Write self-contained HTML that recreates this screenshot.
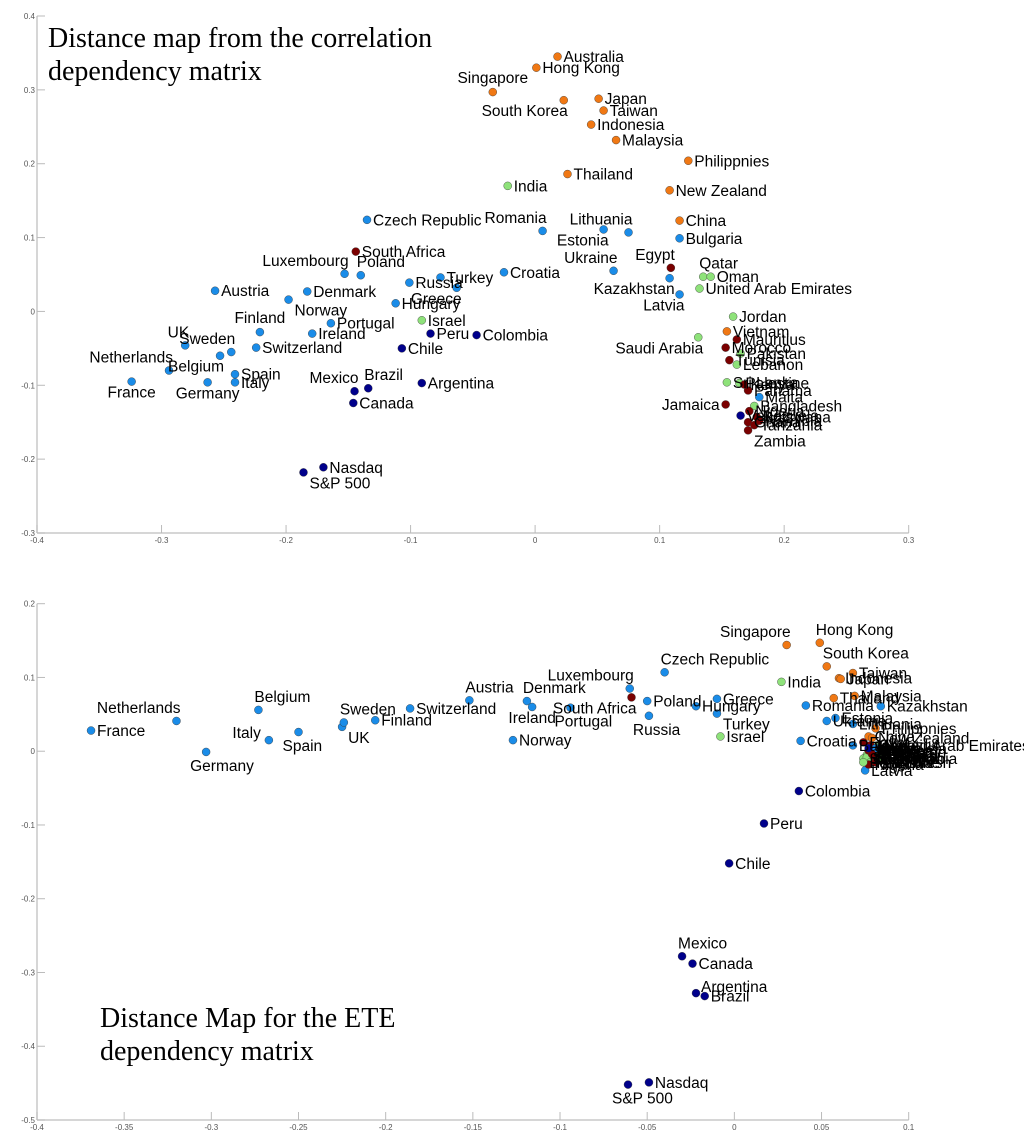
<!DOCTYPE html>
<html><head><meta charset="utf-8"><title>Distance maps</title>
<style>
html,body{margin:0;padding:0;background:#fff;}
svg{display:block;}
.lbl{font-family:"Liberation Sans",sans-serif;font-size:15.5px;fill:#000;}
.tick{font-family:"Liberation Sans",sans-serif;font-size:8px;fill:#555;}
.title{font-family:"Liberation Serif",serif;font-size:28px;fill:#000;}
</style></head>
<body>
<svg id="chart" width="1024" height="1147" viewBox="0 0 1024 1147" xmlns="http://www.w3.org/2000/svg">
<text class="title" x="48" y="47">Distance map from the correlation</text>
<text class="title" x="48" y="80">dependency matrix</text>
<text class="title" x="100" y="1027">Distance Map for the ETE</text>
<text class="title" x="100" y="1060">dependency matrix</text>
<g id="top"></g>
<g id="bot"></g>
</svg>
<script>
const COLORS={o:"#f07814",b:"#1a8ce8",n:"#00008b",r:"#7a0000",g:"#8ee27a"};

// ---- Top panel data ----
const topNames=["Australia","Hong Kong","Singapore","South Korea","Japan","Taiwan","Indonesia","Malaysia","Philippnies","Thailand","India","New Zealand","Czech Republic","Romania","Lithuania","Estonia","China","Bulgaria","South Africa","Luxembourg","Poland","Turkey","Croatia","Ukraine","Egypt","Qatar","Oman","Russia","Kazakhstan","Austria","Denmark","Greece","United Arab Emirates","Latvia","Norway","Hungary","Finland","Portugal","Israel","Ireland","UK","Sweden","Switzerland","Peru","Colombia","Chile","Jordan","Vietnam","Saudi Arabia","Mauritius","Morocco","Pakistan","Tunisia","Lebanon","Netherlands","France","Belgium","Spain","Germany","Italy","Mexico","Brazil","Argentina","Canada","Sri Lanka","Palestine","Jamaica","Panama","Kenya","Malta","Bangladesh","Venezuela","Nigeria","Botswana","Ghana","Tanzania","Namibia","Zambia","Nasdaq","S&P 500"];
const topX=[0.018,0.001,-0.034,0.023,0.051,0.055,0.045,0.065,0.123,0.026,-0.022,0.108,-0.135,0.006,0.075,0.055,0.116,0.116,-0.144,-0.153,-0.140,-0.076,-0.025,0.063,0.109,0.135,0.141,-0.101,0.108,-0.257,-0.183,-0.063,0.132,0.116,-0.198,-0.112,-0.221,-0.164,-0.091,-0.179,-0.281,-0.244,-0.224,-0.084,-0.047,-0.107,0.159,0.154,0.131,0.162,0.153,0.165,0.156,0.162,-0.294,-0.324,-0.253,-0.241,-0.263,-0.241,-0.145,-0.134,-0.091,-0.146,0.154,0.164,0.153,0.171,0.168,0.180,0.176,0.165,0.172,0.178,0.171,0.176,0.180,0.171,-0.170,-0.186];
const topY=[0.345,0.330,0.297,0.286,0.288,0.272,0.253,0.232,0.204,0.186,0.170,0.164,0.124,0.109,0.107,0.111,0.123,0.099,0.081,0.051,0.049,0.046,0.053,0.055,0.059,0.047,0.047,0.039,0.045,0.028,0.027,0.032,0.031,0.023,0.016,0.011,-0.028,-0.016,-0.012,-0.030,-0.046,-0.055,-0.049,-0.030,-0.032,-0.050,-0.007,-0.027,-0.035,-0.038,-0.049,-0.057,-0.066,-0.072,-0.080,-0.095,-0.060,-0.085,-0.096,-0.096,-0.108,-0.104,-0.097,-0.124,-0.096,-0.097,-0.126,-0.107,-0.099,-0.116,-0.128,-0.141,-0.135,-0.143,-0.150,-0.154,-0.148,-0.161,-0.211,-0.218];
const topGroup=["o","o","o","o","o","o","o","o","o","o","g","o","b","b","b","b","o","b","r","b","b","b","b","b","r","g","g","b","b","b","b","b","g","b","b","b","b","b","g","b","b","b","b","n","n","n","g","o","g","r","r","g","r","g","b","b","b","b","b","b","n","n","n","n","g","g","r","r","r","b","g","n","r","r","r","r","r","r","n","n"];
const topPos=["r","r","ac","lb","r","r","r","r","r","r","r","r","r","al","al","bl","r","r","r","al","a","r","r","al","al","a","r","r","bl","r","r","bl","r","bl","br","r","ac","r","r","r","al","al","r","r","r","r","r","r","bl","r","r","r","r","r","al","bc","lb","r","bc","r","al","a","r","r","r","r","l","r","r","r","r","r","r","r","r","r","r","br","r","br"];

// ---- Bottom panel data ----
const botNames=["France","Netherlands","Germany","Belgium","Italy","Spain","UK","Sweden","Finland","Switzerland","Austria","Denmark","Ireland","Norway","Portugal","Luxembourg","South Africa","Poland","Czech Republic","Russia","Greece","Hungary","Turkey","Israel","India","Singapore","Hong Kong","South Korea","Taiwan","Indonesia","Japan","Thailand","Malaysia","Romania","Kazakhstan","Estonia","Ukraine","Croatia","Lithuania","Philippnies","China","Latvia","Bulgaria","New Zealand","Egypt","United Arab Emirates","Qatar","Oman","Jordan","Saudi Arabia","Vietnam","Mauritius","Morocco","Pakistan","Tunisia","Lebanon","Sri Lanka","Palestine","Jamaica","Panama","Malta","Kenya","Nigeria","Zambia","Bangladesh","Venezuela","Colombia","Peru","Chile","Mexico","Canada","Argentina","Brazil","Nasdaq","S&P 500"];
const botX=[-0.369,-0.320,-0.303,-0.273,-0.267,-0.250,-0.225,-0.224,-0.206,-0.186,-0.152,-0.119,-0.116,-0.127,-0.094,-0.060,-0.059,-0.050,-0.040,-0.049,-0.010,-0.022,-0.010,-0.008,0.027,0.030,0.049,0.053,0.068,0.060,0.061,0.057,0.069,0.041,0.084,0.058,0.053,0.038,0.068,0.081,0.077,0.075,0.068,0.079,0.074,0.082,0.080,0.078,0.076,0.074,0.081,0.078,0.077,0.084,0.079,0.082,0.076,0.078,0.077,0.080,0.081,0.079,0.077,0.081,0.074,0.077,0.037,0.017,-0.003,-0.030,-0.024,-0.022,-0.017,-0.049,-0.061];
const botY=[0.028,0.041,-0.001,0.056,0.015,0.026,0.033,0.039,0.042,0.058,0.069,0.068,0.060,0.015,0.059,0.085,0.073,0.068,0.107,0.048,0.071,0.061,0.051,0.020,0.094,0.144,0.147,0.115,0.106,0.099,0.098,0.072,0.075,0.062,0.061,0.045,0.041,0.014,0.037,0.031,0.020,-0.026,0.008,0.018,0.012,0.008,0.004,-0.001,-0.005,-0.010,0.001,0.008,-0.012,-0.001,-0.008,-0.010,-0.008,-0.015,0.001,-0.007,0.004,-0.004,-0.018,-0.015,-0.015,0.004,-0.054,-0.098,-0.152,-0.278,-0.288,-0.328,-0.332,-0.449,-0.452];
const botGroup=["b","b","b","b","b","b","b","b","b","b","b","b","b","b","b","b","r","b","b","b","b","b","b","g","g","o","o","o","o","o","o","o","o","b","b","b","b","b","b","o","o","b","b","o","r","g","g","g","g","g","o","r","r","g","r","g","g","g","r","r","b","r","r","r","g","n","n","n","n","n","n","n","n","n","n"];
const botPos=["r","al","b","a","lu","b","br","a","r","r","a","a","bc","r","b","al","bl","r","a","b","r","r","br","r","r","al","a","a","r","r","r","r","r","r","r","r","r","r","r","r","r","r","r","r","r","r","r","r","r","r","r","r","r","r","r","r","r","r","r","r","r","r","r","r","r","r","r","r","r","a","r","ru","r","r","b"];

// ---- axes ----
const topAxis={x0:-0.4,x1:0.3,y0:-0.3,y1:0.4,px0:37,px1:908.7,py0:533,py1:16,xt:[-0.4,-0.3,-0.2,-0.1,0,0.1,0.2,0.3],yt:[-0.3,-0.2,-0.1,0,0.1,0.2,0.3,0.4]};
const botAxis={x0:-0.4,x1:0.1,y0:-0.5,y1:0.2,px0:37,px1:908.7,py0:1120,py1:603.7,xt:[-0.4,-0.35,-0.3,-0.25,-0.2,-0.15,-0.1,-0.05,0,0.05,0.1],yt:[-0.5,-0.4,-0.3,-0.2,-0.1,0,0.1,0.2]};
const NS="http://www.w3.org/2000/svg";
function mk(t,a,p){const e=document.createElementNS(NS,t);for(const k in a)e.setAttribute(k,a[k]);p.appendChild(e);return e;}
function sx(A,v){return A.px0+(v-A.x0)/(A.x1-A.x0)*(A.px1-A.px0);}
function sy(A,v){return A.py0+(v-A.y0)/(A.y1-A.y0)*(A.py1-A.py0);}
function fmt(v){return (Math.round(v*100)/100).toString();}
function drawAxes(A,g){
  const ax=mk("line",{x1:A.px0,y1:A.py0,x2:A.px1,y2:A.py0,stroke:"#c8c8c8","stroke-width":1.5},g);
  
  
  const ay=mk("line",{x1:A.px0,y1:A.py0,x2:A.px0,y2:A.py1,stroke:"#c8c8c8","stroke-width":1.5},g);
  
  
  A.xt.forEach(v=>{const x=sx(A,v);
    mk("line",{x1:x,y1:A.py0,x2:x,y2:A.py0-8,stroke:"#bbb","stroke-width":1},g);
    const t=mk("text",{x:x,y:A.py0+10,"text-anchor":"middle",class:"tick"},g);t.textContent=fmt(v);
    
    });
  A.yt.forEach(v=>{const y=sy(A,v);
    mk("line",{x1:A.px0,y1:y,x2:A.px0+8,y2:y,stroke:"#bbb","stroke-width":1},g);
    const t=mk("text",{x:A.px0-2,y:y+3,"text-anchor":"end",class:"tick"},g);t.textContent=fmt(v);
    
    });
}
function drawPoints(A,g,names,xs,ys,grp,pos){
  const pg=mk("g",{},g);const lg=mk("g",{},g);
  names.forEach((nm,i)=>{const x=sx(A,xs[i]),y=sy(A,ys[i]);
    const c=mk("circle",{cx:x,cy:y,r:4,fill:COLORS[grp[i]],stroke:"#333","stroke-width":0.4},pg);
    
    
    const p=pos[i];let tx=x+6,ty=y+5.5,an="start";
    if(p==="l"){tx=x-6;an="end";}
    else if(p==="a"){tx=x-4;ty=y-8;}
    else if(p==="ac"){tx=x;ty=y-9;an="middle";}
    else if(p==="al"){tx=x+4;ty=y-8;an="end";}
    else if(p==="b"){tx=x-16;ty=y+19;}
    else if(p==="bc"){tx=x;ty=y+16;an="middle";}
    else if(p==="bl"){tx=x+5;ty=y+16;an="end";}
    else if(p==="lb"){tx=x+4;ty=y+16;an="end";}
    else if(p==="br"){tx=x+6;ty=y+16;}
    else if(p==="lu"){tx=x-8;ty=y-2;an="end";}
    else if(p==="ru"){tx=x+5;ty=y-1;}
    const t=mk("text",{x:tx,y:ty,"text-anchor":an,class:"lbl"},lg);t.textContent=nm;
    
    });
}
const gt=document.getElementById("top"),gb=document.getElementById("bot");
drawAxes(topAxis,gt);drawPoints(topAxis,gt,topNames,topX,topY,topGroup,topPos);
drawAxes(botAxis,gb);drawPoints(botAxis,gb,botNames,botX,botY,botGroup,botPos);
</script>
</body></html>
